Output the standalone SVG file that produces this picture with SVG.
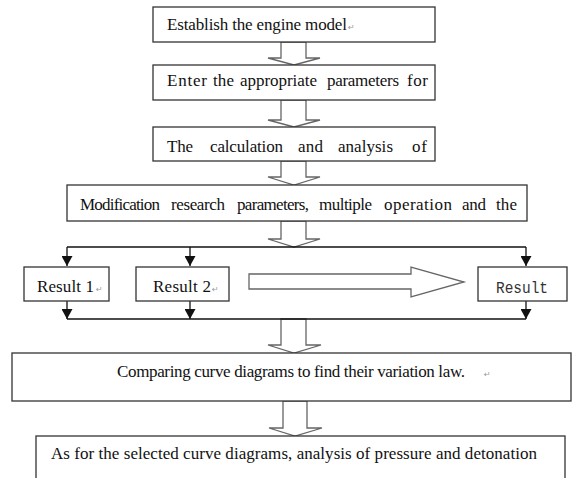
<svg xmlns="http://www.w3.org/2000/svg" width="572" height="478" viewBox="0 0 572 478">
<style>
.box{fill:#fff;stroke:#333;stroke-width:1.3}
.big{fill:#fff;stroke:#666;stroke-width:1.3;stroke-linejoin:miter}
.t{font-family:"Liberation Serif","Times New Roman",serif;font-size:17px;fill:#111}
.m{font-family:"Liberation Mono","Courier New",monospace;font-size:17px;fill:#333}
.r{font-family:"DejaVu Sans",sans-serif;font-size:8px;fill:#999}
.ln{fill:none;stroke:#111;stroke-width:1.3}
</style>
<defs>
<marker id="ah" markerUnits="userSpaceOnUse" markerWidth="12" markerHeight="11" refX="10" refY="5.5" orient="auto">
<path d="M0,0 L10,5.5 L0,11 Z" fill="#111"/>
</marker>
</defs>
<rect width="572" height="478" fill="#fff"/>

<g id="big-arrows">
<polygon class="big" points="281,42 306,42 306,58 320,58 294,65 268,58 281,58 281,42"/>
<polygon class="big" points="281,100 306,100 306,120 320,120 294,127 268,120 281,120"/>
<polygon class="big" points="281,161 306,161 306,177 320,177 294,185 268,177 281,177"/>
<polygon class="big" points="281,221 306,221 306,239 320,239 294,247 268,239 281,239"/>
<polygon class="big" points="281,319 306,319 306,345 321,345 294,353 268,345 281,345"/>
<polygon class="big" points="283,401 307,401 307,428 322,428 295,436 269,428 283,428"/>
<polygon class="big" points="249,274 411,274 411,267 464,282 411,297 411,289 249,289"/>
</g>

<g id="connectors">
<path class="ln" d="M67,247 H526"/>
<path class="ln" d="M67,247 V266" marker-end="url(#ah)"/>
<path class="ln" d="M190,247 V266" marker-end="url(#ah)"/>
<path class="ln" d="M526,247 V266" marker-end="url(#ah)"/>
<path class="ln" d="M67,301 V319" marker-end="url(#ah)"/>
<path class="ln" d="M190,301 V319" marker-end="url(#ah)"/>
<path class="ln" d="M526,301 V319" marker-end="url(#ah)"/>
<path class="ln" d="M67,319 H526"/>
</g>

<g id="n1">
<rect class="box" x="153" y="7" width="282" height="35"/>
<text class="t" x="167" y="30" textLength="180" lengthAdjust="spacing">Establish the engine model</text>
<text class="r" x="348" y="30">↵</text>
</g>
<g id="n2">
<rect class="box" x="153" y="65" width="282" height="35"/>
<text class="t" y="86"><tspan x="167" textLength="40" lengthAdjust="spacing">Enter</tspan> <tspan x="213" textLength="21" lengthAdjust="spacing">the</tspan> <tspan x="240" textLength="77" lengthAdjust="spacing">appropriate</tspan> <tspan x="327" textLength="72" lengthAdjust="spacing">parameters</tspan> <tspan x="407" textLength="21" lengthAdjust="spacing">for</tspan></text>
</g>
<g id="n3">
<rect class="box" x="153" y="127" width="282" height="34"/>
<text class="t" y="152"><tspan x="167" textLength="26" lengthAdjust="spacing">The</tspan> <tspan x="210" textLength="73" lengthAdjust="spacing">calculation</tspan> <tspan x="298" textLength="25" lengthAdjust="spacing">and</tspan> <tspan x="338" textLength="55" lengthAdjust="spacing">analysis</tspan> <tspan x="412" textLength="15" lengthAdjust="spacing">of</tspan></text>
</g>
<g id="n4">
<rect class="box" x="67" y="185" width="460" height="36"/>
<text class="t" y="210"><tspan x="80" textLength="80" lengthAdjust="spacing">Modification</tspan> <tspan x="171" textLength="54" lengthAdjust="spacing">research</tspan> <tspan x="237" textLength="72" lengthAdjust="spacing">parameters,</tspan> <tspan x="319" textLength="53" lengthAdjust="spacing">multiple</tspan> <tspan x="384" textLength="68" lengthAdjust="spacing">operation</tspan> <tspan x="462" textLength="24" lengthAdjust="spacing">and</tspan> <tspan x="496" textLength="21" lengthAdjust="spacing">the</tspan></text>
</g>
<g id="r1">
<rect class="box" x="24" y="267" width="85" height="34"/>
<text class="t" x="37" y="292" textLength="57" lengthAdjust="spacing">Result 1</text>
<text class="r" x="96" y="292">↵</text>
</g>
<g id="r2">
<rect class="box" x="136" y="267" width="93" height="34"/>
<text class="t" x="153" y="292" textLength="58" lengthAdjust="spacing">Result 2</text>
<text class="r" x="212" y="292">↵</text>
</g>
<g id="r3">
<rect class="box" x="478" y="267" width="89" height="34"/>
<text class="m" x="496" y="293" textLength="52" lengthAdjust="spacingAndGlyphs">Result</text>
</g>
<g id="n5">
<rect class="box" x="12" y="353" width="559" height="48"/>
<text class="t" x="117" y="377" textLength="348" lengthAdjust="spacing">Comparing curve diagrams to find their variation law.</text>
<text class="r" x="484" y="377">↵</text>
</g>
<g id="n6">
<rect class="box" x="36" y="436" width="529" height="50"/>
<text class="t" x="51" y="459" textLength="486" lengthAdjust="spacing">As for the selected curve diagrams, analysis of pressure and detonation</text>
</g>
</svg>
